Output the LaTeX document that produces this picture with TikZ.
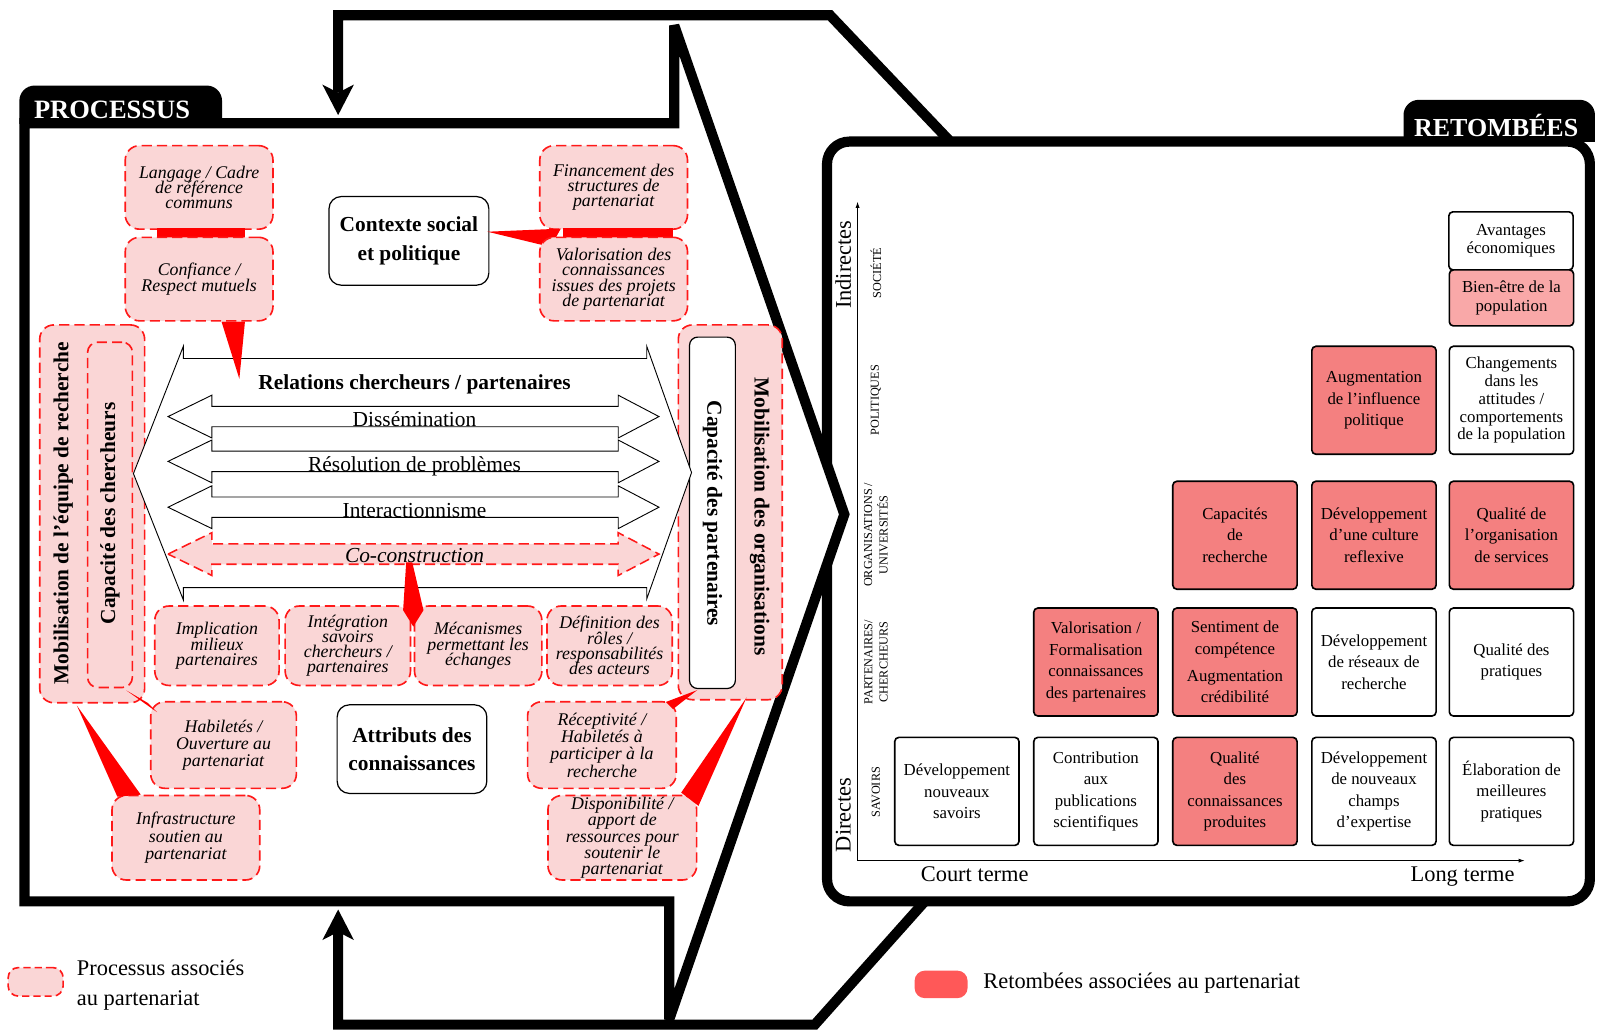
\documentclass[tikz,border=0pt]{standalone}
\usepackage{fontspec}
\setmainfont{Liberation Serif}
\usetikzlibrary{arrows.meta,calc}
\setlength{\lineskiplimit}{-40pt}
\definecolor{pfill}{RGB}{250,214,214}
\definecolor{pline}{RGB}{255,25,25}
\definecolor{rfill}{RGB}{244,128,128}
\definecolor{rlight}{RGB}{249,168,168}
\definecolor{legred}{RGB}{255,88,88}
\definecolor{wred}{RGB}{255,0,0}
\begin{document}
\begin{tikzpicture}[x=1pt,y=-1pt,
  thickframe/.style={line width=10pt, miter limit=5, line join=miter},
  pbox/.style={draw=pline, fill=pfill, line width=1.6pt, dash pattern=on 10pt off 5pt, rounded corners=14pt, align=center, inner sep=1pt, font=\fontsize{17.5}{15}\selectfont\itshape},
  pboxl/.style={pbox, font=\fontsize{17.5}{17}\selectfont\itshape},
  wbox/.style={draw=black, fill=white, line width=1.2pt, rounded corners=12pt, align=center, inner sep=2pt, font=\fontsize{21}{28}\selectfont\bfseries},
  rbox/.style={draw=black, fill=white, line width=1.6pt, rounded corners=4pt, align=center, minimum width=122pt, minimum height=106pt, inner sep=1pt, font=\fontsize{16.5}{21}\selectfont},
  rred/.style={rbox, fill=rfill},
  arrw/.style={draw=black, line width=0.9pt, fill=white},
  arrp/.style={draw=pline, fill=pfill, line width=1.5pt, dash pattern=on 10pt off 5pt},
  redwedge/.style={fill=wred, draw=none},
  boldlbl/.style={font=\fontsize{21}{24}\selectfont\bfseries},
  arrlbl/.style={font=\fontsize{21}{24}\selectfont, anchor=base},
  catlbl/.style={rotate=90, align=center, font=\fontsize{12}{15}\selectfont},
  axisline/.style={line width=0.8pt, -{Latex[length=6pt,width=4pt]}},
  loopar/.style={thickframe, miter limit=3, {Stealth[length=30pt,width=31pt,inset=8pt,line width=0pt]}-},
]
\useasboundingbox (0,0) rectangle (1568,1013);

% ---------- RETOMBEES frame and tab ----------
\begin{scope}
\clip (0,0) rectangle (1568,139);
\fill[black, rounded corners=15pt] (1378,98) rectangle (1566,180);
\end{scope}
\node[draw=black, fill=white, line width=10pt, rounded corners=22pt, minimum width=749pt, minimum height=746pt, outer sep=0pt, inner sep=0pt] (retf) at (1186.5,512) {};
\node[text=white, font=\fontsize{25.5}{28}\selectfont\bfseries] (rett) at (1469,123) {RETOMBÉES};

% ---------- feedback loop ----------
\coordinate (pin) at (332,113);
\coordinate (pbot) at (332,893);
\draw[loopar] (pin) -- (332,15) -- (815,15) -- ($(retf.north west)+(121,0)$);
\draw[loopar] (pbot) -- (332,1006) -- (800,1006) -- ($(retf.south west)+(96,0)$);

% ---------- PROCESSUS frame and tab ----------
\draw[thickframe, fill=white] (24,121) -- (662,121) [miter limit=3] -- (662,25) -- (829,505) -- (657,1001) -- (657,885) -- (24,885) -- cycle;
\begin{scope}
\clip (0,0) rectangle (1568,121);
\fill[black, rounded corners=15pt] (19,84) rectangle (218,160);
\end{scope}
\node[text=white, font=\fontsize{26}{28}\selectfont\bfseries] (proct) at (110,108) {PROCESSUS};

% ---------- context box and under-box connectors ----------
\node[wbox, minimum width=157pt, minimum height=87pt] (ctx) at (401.5,236.5) {Contexte social\\et politique};
\node[pbox, minimum width=145pt, minimum height=82pt] (lang) at (195.5,184) {Langage / Cadre\\de référence\\communs};
\node[pbox, minimum width=145pt, minimum height=82pt] (fin) at (602.5,184) {Financement des\\structures de\\partenariat};
\fill[redwedge] ($(lang.south)+(-41,-2)$) rectangle ($(lang.south)+(45,10)$);
\fill[redwedge] ($(fin.south)+(-50,-2)$) rectangle ($(fin.south)+(58,10)$);
\fill[redwedge] ($(ctx.east)+(-2,-9)$) -- ($(ctx.east)+(70,-12)$) -- ($(ctx.east)+(60,6)$) -- cycle;
\node[pbox, minimum width=145pt, minimum height=82pt] (conf) at (195.5,274) {Confiance /\\Respect mutuels};
\node[pbox, minimum width=145pt, minimum height=82pt] (valo) at (602.5,274) {Valorisation des\\connaissances\\issues des projets\\de partenariat};

% ---------- side columns ----------
\node[pbox, minimum width=103pt, minimum height=371pt] (mobE) at (90.5,504.5) {};
\node[pbox, minimum width=44pt, minimum height=339pt, rounded corners=10pt] (capC) at (108,505.5) {};
\node[rotate=90, boldlbl] (mobEt) at (62,504) {Mobilisation de l’équipe de recherche};
\node[rotate=90, boldlbl] (capCt) at (108,504) {Capacité des chercheurs};
\node[pbox, minimum width=102pt, minimum height=368pt] (mobO) at (717,503) {};
\node[draw=black, fill=white, line width=1.2pt, rounded corners=8pt, minimum width=45pt, minimum height=345pt] (capP) at (699.5,503.5) {};
\node[rotate=-90, boldlbl] (capPt) at (699.5,504) {Capacité des partenaires};
\node[rotate=-90, boldlbl] (mobOt) at (746,507) {Mobilisation des organisations};

% ---------- relation arrows ----------
\draw[arrw] (131,465) -- (180,340) -- (180,352) -- (635,352) -- (635,340) -- (679,464) -- (635,588) -- (635,577) -- (180,577) -- (180,589) -- cycle;
\node[boldlbl] (rel) at (407,377) {Relations chercheurs / partenaires};
\foreach \c/\s in {409/arrw,453/arrw,498/arrw,544/arrp}{
  \draw[\s] (165,\c) -- (208,\c-21) -- (208,\c-10) -- (607,\c-10) -- (607,\c-21) -- (647,\c) -- (607,\c+21) -- (607,\c+10) -- (208,\c+10) -- (208,\c+21) -- cycle;
}
\node[arrlbl] (dis) at (407,419) {Dissémination};
\node[arrlbl] (res) at (407,463) {Résolution de problèmes};
\node[arrlbl] (int) at (407,508) {Interactionnisme};
\node[arrlbl, font=\fontsize{21}{24}\selectfont\itshape] (coc) at (407,552) {Co-construction};

% ---------- bottom process boxes ----------
\node[pbox, minimum width=122pt, minimum height=78pt] (impl) at (213,634) {Implication\\milieux\\partenaires};
\node[pbox, minimum width=123pt, minimum height=78pt] (integ) at (341.5,634) {Intégration\\savoirs\\chercheurs /\\partenaires};
\node[pbox, minimum width=125pt, minimum height=78pt] (meca) at (469.5,634) {Mécanismes\\permettant les\\échanges};
\node[pbox, minimum width=123pt, minimum height=78pt] (defi) at (598.5,634) {Définition des\\rôles /\\responsabilités\\des acteurs};
\node[pboxl, minimum width=143pt, minimum height=85pt] (habi) at (219.5,731.5) {Habiletés /\\Ouverture au\\partenariat};
\node[wbox, minimum width=147pt, minimum height=87pt] (attr) at (404.5,735.5) {Attributs des\\connaissances};
\node[pboxl, minimum width=146pt, minimum height=85pt] (recep) at (591,731.5) {Réceptivité /\\Habiletés à\\participer à la\\recherche};
\node[pboxl, minimum width=145pt, minimum height=83pt] (infra) at (182.5,822.5) {Infrastructure\\soutien au\\partenariat};
\node[pboxl, minimum width=146pt, minimum height=83pt, font=\fontsize{17.5}{16}\selectfont\itshape] (dispo) at (611,822.5) {Disponibilité /\\apport de\\ressources pour\\soutenir le\\partenariat};

% ---------- red connectors ----------
\coordinate (tipc) at (235,372);
\fill[redwedge] ($(conf.south)+(22,0)$) -- ($(conf.south)+(45,0)$) -- (tipc) -- cycle;
\fill[redwedge] ($(integ.north east)+(-5,-42)$) -- ($(integ.north east)+(1,-42)$) -- ($(integ.north east)+(12,5)$) -- ($(integ.north east)+(2,21)$) -- ($(integ.north east)+(-8,5)$) -- cycle;
\fill[redwedge] ($(capC.south)+(16,2)$) -- ($(habi.north west)+(-2,2)$) -- ($(habi.north west)+(7,11)$) -- cycle;
\fill[redwedge] ($(mobE.south)+(-15,2)$) -- ($(infra.north west)+(6,2)$) -- ($(infra.north west)+(29,0)$) -- cycle;
\fill[redwedge] ($(capP.south)+(-15,1)$) -- ($(recep.north east)+(-11,1)$) -- ($(recep.north east)+(-4,8)$) -- cycle;
\fill[redwedge] ($(mobO.south)+(16,-3)$) -- ($(dispo.north east)+(-16,-2)$) -- ($(dispo.north east)+(1,11)$) -- cycle;

% ---------- RETOMBEES content ----------
\coordinate (ax0) at (842,845);
\coordinate (axy) at (842,198);
\coordinate (axx) at (1497,845);
\draw[axisline] (ax0) -- (axy);
\draw[axisline] (ax0) -- (axx);
\node[rotate=90, font=\fontsize{22}{24}\selectfont] (indir) at (828,260) {Indirectes};
\node[rotate=90, font=\fontsize{22}{24}\selectfont] (dir) at (828,800) {Directes};
\node[anchor=base, font=\fontsize{22}{24}\selectfont] (court) at (957,865) {Court terme};
\node[anchor=base, font=\fontsize{22}{24}\selectfont] (long) at (1436,865) {Long terme};
\node[catlbl] (cs) at (860,268) {SOCIÉTÉ};
\node[catlbl] (cp) at (860,393) {POLITIQUES};
\node[catlbl] (co) at (860,525) {ORGANISATIONS /\\UNIVERSITÉS};
\node[catlbl] (cpc) at (860,650) {PARTENAIRES/\\CHERCHEURS};
\node[catlbl] (csv) at (860,778) {SAVOIRS};

\node[rbox] (s1) at (939.5,777) {Développement\\nouveaux\\savoirs};
\node[rbox] (s2) at (1076,777) {Contribution\\aux\\publications\\scientifiques};
\node[rred] (s3) at (1212.5,777) {Qualité\\des\\connaissances\\produites};
\node[rbox] (s4) at (1349,777) {Développement\\de nouveaux\\champs\\d’expertise};
\node[rbox] (s5) at (1484,777) {Élaboration de\\meilleures\\pratiques};
\node[rred] (p2) at (1076,650) {Valorisation /\\Formalisation\\connaissances\\des partenaires};
\node[rred] (p3) at (1212.5,650) {Sentiment de\\compétence\\[6pt]Augmentation\\crédibilité};
\node[rbox] (p4) at (1349,650) {Développement\\de réseaux de\\recherche};
\node[rbox] (p5) at (1484,650) {Qualité des\\pratiques};
\node[rred] (o3) at (1212.5,525.5) {Capacités\\de\\recherche};
\node[rred] (o4) at (1349,525.5) {Développement\\d’une culture\\reflexive};
\node[rred] (o5) at (1484,525.5) {Qualité de\\l’organisation\\de services};
\node[rred] (l4) at (1349,393) {Augmentation\\de l’influence\\politique};
\node[rbox, font=\fontsize{16.5}{17.5}\selectfont] (l5) at (1484,393) {Changements\\dans les\\attitudes /\\comportements\\de la population};
\node[rbox, minimum height=57pt, font=\fontsize{16.5}{18}\selectfont] (ava) at (1483.5,236.5) {Avantages\\économiques};
\node[rbox, fill=rlight, minimum height=55pt, font=\fontsize{16.5}{19}\selectfont] (bien) at (1484,292.5) {Bien-être de la\\population};

% ---------- legends ----------
\node[pbox, minimum width=54pt, minimum height=28pt, rounded corners=10pt, dash pattern=on 7pt off 4pt] (legP) at (35,964) {};
\node[anchor=west, align=left, font=\fontsize{22}{30}\selectfont] (legPt) at (72,967) {Processus associés\\au partenariat};
\node[fill=legred, rounded corners=10pt, minimum width=52pt, minimum height=27pt] (legR) at (924,966.5) {};
\node[anchor=west, font=\fontsize{22}{26}\selectfont] (legRt) at (962,965) {Retombées associées au partenariat};
\end{tikzpicture}
\end{document}
